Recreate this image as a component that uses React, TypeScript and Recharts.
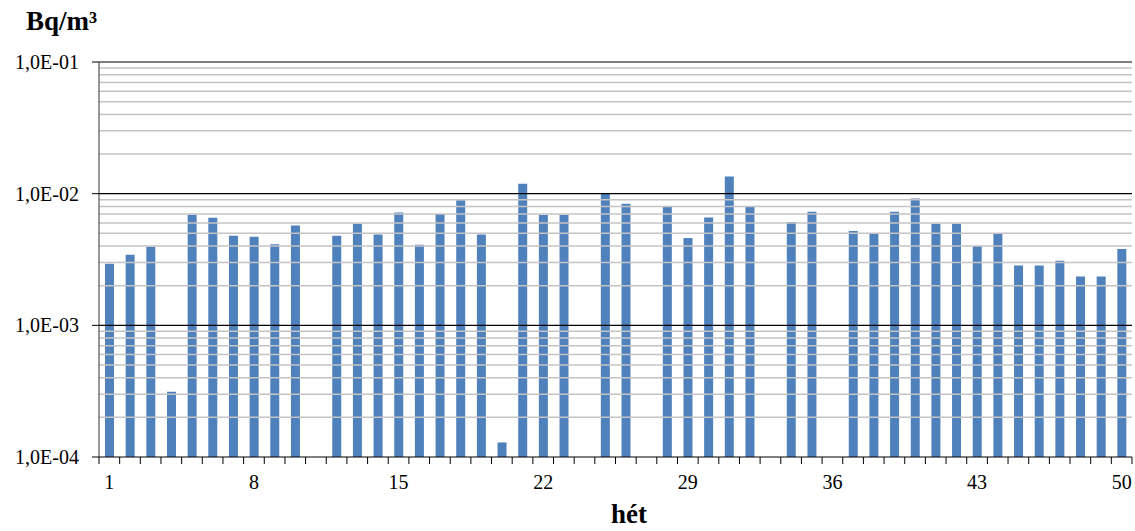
import { BarChart, Bar, XAxis, YAxis, ReferenceLine } from 'recharts'

// weekly values (Bq/m3), null = no measurement that week
const weeks = Array.from({ length: 50 }, (_, i) => i + 1)
const values: (number | null)[] = [
  2.94e-3, 3.44e-3, 3.96e-3, 3.13e-4, 6.93e-3, 6.57e-3, 4.8e-3, 4.71e-3, 4.12e-3, 5.74e-3,
  null, 4.8e-3, 5.9e-3, 4.9e-3, 7.2e-3, 4.1e-3, 7.0e-3, 8.9e-3, 4.9e-3, 1.29e-4,
  1.19e-2, 6.9e-3, 6.9e-3, null, 1.0e-2, 8.4e-3, null, 8.0e-3, 4.6e-3, 6.6e-3,
  1.35e-2, 8.0e-3, null, 6.1e-3, 7.3e-3, null, 5.2e-3, 5.0e-3, 7.3e-3, 9.2e-3,
  5.9e-3, 5.9e-3, 4.0e-3, 5.0e-3, 2.85e-3, 2.85e-3, 3.1e-3, 2.35e-3, 2.35e-3, 3.8e-3,
]
const majorTicks = [1e-4, 1e-3, 1e-2, 1e-1]
const minorSteps = [2, 3, 4, 5, 6, 7, 8, 9]

const data = weeks.map((w, i) => ({ week: w, value: values[i] }))
const minorLines = majorTicks.slice(0, 3).flatMap((d) => minorSteps.map((m) => m * d))
const boundaryTicks = [0.5, ...weeks.map((w) => w + 0.5)]

function formatExp(v: number): string {
  const exp = Math.round(Math.log10(v))
  return `1,0E-${String(-exp).padStart(2, '0')}`
}

const font = '"Liberation Serif", "Times New Roman", serif'

export default function App() {
  return (
    <div style={{ position: 'absolute', left: 0, top: 0, width: 1135, height: 531, fontFamily: font }}>
      <div style={{ position: 'absolute', left: 26, top: 6, fontSize: 27, fontWeight: 'bold', lineHeight: 'normal' }}>
        Bq/m³
      </div>
      <div style={{ position: 'absolute', left: 611, top: 499, fontSize: 27, fontWeight: 'bold' }}>hét</div>
      <BarChart
        width={1135}
        height={531}
        data={data}
        margin={{ top: 62, right: 3, bottom: 0, left: 0 }}
        barSize={9}
      >
        {/* week boundary tick marks (id 0 so it sits right on the plot edge) */}
        <XAxis
          xAxisId={0}
          type="number"
          dataKey="week"
          domain={[0.5, 50.5]}
          ticks={boundaryTicks}
          tickFormatter={() => ''}
          axisLine={false}
          tickSize={7}
          tickLine={{ stroke: '#000' }}
          height={1}
          allowDataOverflow
        />
        <XAxis
          xAxisId="c"
          dataKey="week"
          interval={6}
          tickLine={false}
          tickSize={7}
          tickMargin={10}
          height={73}
          axisLine={false}
          tick={{ fill: '#000', fontSize: 20, fontFamily: font }}
        />
        <YAxis
          scale="log"
          domain={[1e-4, 1e-1]}
          ticks={majorTicks}
          allowDataOverflow
          width={99}
          tickSize={7}
          tickMargin={13}
          tickFormatter={formatExp}
          axisLine={{ stroke: '#333' }}
          tickLine={{ stroke: '#000' }}
          tick={{ fill: '#000', fontSize: 20, fontFamily: font }}
        />
        {minorLines.map((v) => (
          <ReferenceLine key={v} xAxisId="c" y={v} stroke="#c4c4c4" strokeWidth={1.5} />
        ))}
        {majorTicks.map((v) => (
          <ReferenceLine key={v} xAxisId="c" y={v} stroke="#000" strokeWidth={1.2} />
        ))}
        <Bar dataKey="value" xAxisId="c" fill="#4f81bd" isAnimationActive={false} />
      </BarChart>
    </div>
  )
}
